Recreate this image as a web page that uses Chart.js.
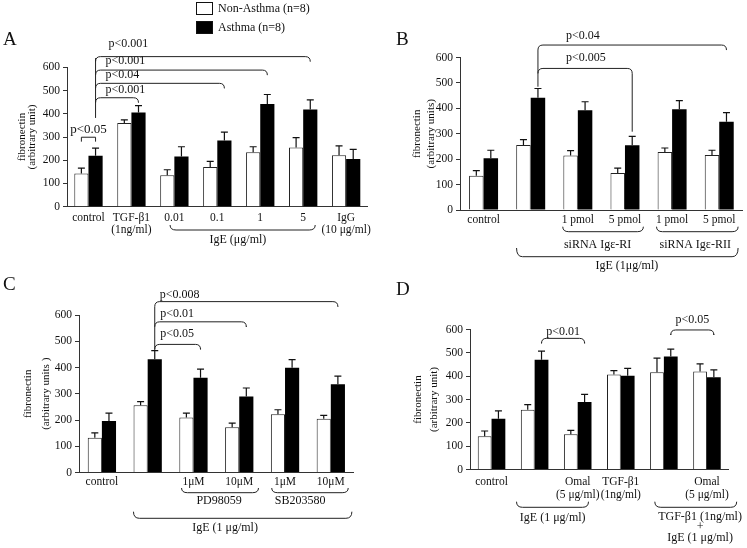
<!DOCTYPE html>
<html>
<head>
<meta charset="utf-8">
<script src="https://cdn.jsdelivr.net/npm/chart.js@4.4.1/dist/chart.umd.min.js"></script>
<style>
  html, body { margin: 0; padding: 0; background: #fff; overflow: hidden; }
  canvas { position: absolute; }
</style>
</head>
<body>
<canvas id="cA" width="400" height="274" style="left:0;top:0"></canvas>
<canvas id="cB" width="400" height="274" style="left:373px;top:0"></canvas>
<canvas id="cC" width="400" height="274" style="left:0;top:274px"></canvas>
<canvas id="cD" width="400" height="274" style="left:373px;top:274px"></canvas>
<script>
const SERIF = "'Liberation Serif', 'Times New Roman', serif";
const seriesNames = ["Non-Asthma (n=8)", "Asthma (n=8)"];
const ticksY = [0, 100, 200, 300, 400, 500, 600];

// Panel A
const catsA = ["control", ["TGF-β1", "(1ng/ml)"], "0.01", "0.1", "1", "5", ["IgG", "(10 μg/ml)"]];
const nonAsthmaA = [143, 360, 135, 171, 234, 255, 221];
const nonAsthmaErrA = [23, 14, 24, 24, 24, 42, 41];
const asthmaA = [219, 405, 216, 285, 442, 418, 205];
const asthmaErrA = [33, 30, 42, 36, 41, 42, 42];

// Panel B
const catsB = ["control", "", "1 pmol", "5 pmol", "1 pmol", "5 pmol"];
const nonAsthmaB = [135, 256, 214, 146, 228, 216];
const nonAsthmaErrB = [20, 21, 20, 19, 16, 19];
const asthmaB = [204, 442, 392, 255, 396, 347];
const asthmaErrB = [31, 36, 34, 35, 34, 36];

// Panel C
const catsC = ["control", "", "1μM", "10μM", "1μM", "10μM"];
const nonAsthmaC = [132, 256, 210, 172, 222, 205];
const nonAsthmaErrC = [19, 14, 16, 16, 17, 13];
const asthmaC = [196, 431, 361, 290, 399, 336];
const asthmaErrC = [30, 33, 33, 32, 31, 31];

// Panel D
const catsD = ["control", "", ["Omal", "(5 μg/ml)"], ["TGF-β1", "(1ng/ml)"], "", ["Omal", "(5 μg/ml)"]];
const nonAsthmaD = [142, 256, 151, 407, 417, 420];
const nonAsthmaErrD = [23, 22, 17, 17, 60, 33];
const asthmaD = [218, 470, 289, 402, 484, 395];
const asthmaErrD = [33, 37, 33, 31, 32, 32];

const XH = 36; // fixed x axis box height (labels are clipped to it)

// error bars, p-value brackets, braces, group labels
function annot(cfg) {
  return {
    id: "annot",
    afterDatasetsDraw(chart) {
      const ctx = chart.ctx, y = chart.scales.y;
      ctx.save();
      ctx.strokeStyle = "#111";
      ctx.lineWidth = 1.2;
      chart.data.datasets.forEach((ds, di) => {
        chart.getDatasetMeta(di).data.forEach((bar, i) => {
          const top = y.getPixelForValue(ds.data[i] + ds.err[i]);
          ctx.beginPath();
          ctx.moveTo(bar.x, bar.y);
          ctx.lineTo(bar.x, top);
          ctx.moveTo(bar.x - 3.5, top);
          ctx.lineTo(bar.x + 3.5, top);
          ctx.stroke();
        });
      });
      ctx.restore();
    },
    afterDraw(chart) {
      const ctx = chart.ctx, x = chart.scales.x, y = chart.scales.y;
      const ox = cfg.origin[0], oy = cfg.origin[1];
      const barX = c => chart.getDatasetMeta(c[1]).data[c[0]].x;
      const base = chart.chartArea.bottom;
      ctx.save();
      ctx.strokeStyle = "#222";
      ctx.fillStyle = "#111";
      ctx.lineWidth = 1;

      if (cfg.trunk) {
        const tx = barX(cfg.trunk.at);
        ctx.beginPath();
        ctx.moveTo(tx, y.getPixelForValue(cfg.trunk.from));
        ctx.lineTo(tx, y.getPixelForValue(cfg.trunk.to) + 5);
        ctx.stroke();
      }

      (cfg.sig || []).forEach(s => {
        const xa = barX(s.a), xb = barX(s.b);
        const py = y.getPixelForValue(s.y);
        const r = s.r === undefined ? 5 : s.r;
        const ya = s.legA !== undefined ? y.getPixelForValue(s.legA) : py + r;
        const yb = y.getPixelForValue(s.legB);
        ctx.beginPath();
        ctx.moveTo(xa, ya);
        ctx.lineTo(xa, py + r);
        ctx.quadraticCurveTo(xa, py, xa + r, py);
        ctx.lineTo(xb - r, py);
        ctx.quadraticCurveTo(xb, py, xb, py + r);
        ctx.lineTo(xb, yb);
        ctx.stroke();
        ctx.font = (s.size || 12) + "px " + SERIF;
        ctx.textBaseline = "middle";
        if (s.align === "center") {
          ctx.textAlign = "center";
          ctx.fillText(s.text, (xa + xb) / 2, y.getPixelForValue(s.ty));
        } else {
          ctx.textAlign = "left";
          ctx.fillText(s.text, xa + s.dx, y.getPixelForValue(s.ty));
        }
      });

      (cfg.braces || []).forEach(b => {
        const x1 = x.getPixelForValue(b.from), x2 = x.getPixelForValue(b.to);
        const by = base + b.dy, r = 6;
        ctx.beginPath();
        ctx.moveTo(x1, by - b.h);
        ctx.quadraticCurveTo(x1, by, x1 + r, by);
        ctx.lineTo(x2 - r, by);
        ctx.quadraticCurveTo(x2, by, x2, by - b.h);
        ctx.stroke();
      });

      ctx.font = "12px " + SERIF;
      ctx.textAlign = "center";
      ctx.textBaseline = "middle";
      (cfg.groups || []).forEach(g => {
        ctx.fillText(g.t, x.getPixelForValue(g.at), base + g.dy);
      });

      ctx.font = "19px " + SERIF;
      ctx.textAlign = "left";
      ctx.textBaseline = "alphabetic";
      ctx.fillText(cfg.letter, cfg.letterPos[0] - ox, cfg.letterPos[1] - oy);

      if (cfg.legend) {
        const ds = chart.data.datasets;
        const rows = [[2, 9], [21, 28]];
        ctx.font = "12px " + SERIF;
        ctx.textBaseline = "middle";
        ds.forEach((d, i) => {
          ctx.fillStyle = d.backgroundColor;
          ctx.fillRect(196 - ox, rows[i][0] - oy, 17, 13);
          ctx.strokeStyle = "#111";
          ctx.strokeRect(196.5 - ox, rows[i][0] + 0.5 - oy, 16, 12);
          ctx.fillStyle = "#111";
          ctx.fillText(d.label, 218 - ox, rows[i][1] - oy);
        });
      }
      ctx.restore();
    }
  };
}

function makePanel(id, cfg) {
  const cv = document.getElementById(id);
  const p = cfg.plot, ox = cfg.origin[0], oy = cfg.origin[1];
  const yw = p.left - ox;
  return new Chart(cv, {
    type: "bar",
    data: {
      labels: cfg.cats,
      datasets: [
        { label: seriesNames[0], data: cfg.non, err: cfg.nonErr, backgroundColor: "#fff", borderColor: "#222", borderWidth: 1 },
        { label: seriesNames[1], data: cfg.ast, err: cfg.astErr, backgroundColor: "#000", borderColor: "#000", borderWidth: 0 }
      ]
    },
    options: {
      responsive: false,
      animation: false,
      devicePixelRatio: 1,
      layout: { padding: { left: 0, top: p.top - oy, right: cv.width - (p.right - ox), bottom: cv.height - (p.bottom - oy) - XH } },
      plugins: { legend: { display: false }, tooltip: { enabled: false } },
      datasets: { bar: { categoryPercentage: cfg.catPct, barPercentage: 1 } },
      scales: {
        x: {
          grid: { display: false, drawTicks: false },
          border: { display: true, color: "#333", width: 1 },
          ticks: { color: "#111", font: { family: SERIF, size: 11.5, lineHeight: cfg.xLh }, padding: cfg.xPad, maxRotation: 0, autoSkip: false },
          afterFit: s => { s.height = XH; }
        },
        y: {
          min: ticksY[0],
          max: ticksY[ticksY.length - 1],
          ticks: { stepSize: ticksY[1] - ticksY[0], color: "#111", font: { family: SERIF, size: 11.5 }, padding: 3 },
          grid: { drawOnChartArea: false, drawTicks: true, tickLength: 4, color: "#333" },
          border: { display: true, color: "#333", width: 1 },
          title: {
            display: true,
            text: ["fibronectin", cfg.yUnit],
            color: "#111",
            font: { family: SERIF, size: 11, lineHeight: cfg.titleLh / 11 },
            padding: { top: cfg.titleX - ox - cfg.titleLh / 2, bottom: 0 }
          },
          afterFit: s => { s.width = yw; }
        }
      }
    },
    plugins: [annot(cfg)]
  });
}

makePanel("cA", {
  origin: [0, 0], plot: { left: 67, top: 67.3, right: 367.6, bottom: 206.7 },
  cats: catsA, non: nonAsthmaA, nonErr: nonAsthmaErrA, ast: asthmaA, astErr: asthmaErrA,
  catPct: 0.66, xLh: 12 / 11.5, xPad: 5.6,
  yUnit: "(arbitrary unit)", titleX: 21.7, titleLh: 10.6,
  letter: "A", letterPos: [3, 45], legend: true,
  trunk: { at: [0, 1], from: 382, to: 661 },
  sig: [
    { a: [0, 1], b: [1, 1], y: 469, legB: 447, text: "p<0.001", ty: 505, dx: 10 },
    { a: [0, 1], b: [3, 1], y: 531, legB: 510, text: "p<0.04", ty: 567, dx: 10 },
    { a: [0, 1], b: [4, 1], y: 588, legB: 567, text: "p<0.001", ty: 627, dx: 10 },
    { a: [0, 1], b: [5, 1], y: 646, legB: 625, text: "p<0.001", ty: 703, dx: 13 },
    { a: [0, 0], b: [0, 1], y: 299, legA: 280, legB: 280, r: 0, text: "p<0.05", ty: 332, align: "center", size: 13 }
  ],
  braces: [{ from: 1.9, to: 5.28, dy: 23.3, h: 5 }],
  groups: [{ t: "IgE (μg/ml)", at: 3.48, dy: 33.3 }]
});

makePanel("cB", {
  origin: [373, 0], plot: { left: 460, top: 57.5, right: 742.8, bottom: 210 },
  cats: catsB, non: nonAsthmaB, nonErr: nonAsthmaErrB, ast: asthmaB, astErr: asthmaErrB,
  catPct: 0.615, xLh: 12 / 11.5, xPad: 4,
  yUnit: "(arbitrary units)", titleX: 416.7, titleLh: 14,
  letter: "B", letterPos: [396, 45],
  trunk: { at: [1, 1], from: 485, to: 649 },
  sig: [
    { a: [1, 1], b: [3, 1], y: 557, legB: 308, text: "p<0.005", ty: 597, dx: 28 },
    { a: [1, 1], b: [5, 1], y: 649, legB: 630, text: "p<0.04", ty: 684, dx: 28 }
  ],
  braces: [
    { from: 1.68, to: 3.39, dy: 21.7, h: 5 },
    { from: 3.67, to: 5.4, dy: 21.7, h: 5 },
    { from: 0.7, to: 5.4, dy: 46.7, h: 8.7 }
  ],
  groups: [
    { t: "siRNA Igε-RI", at: 2.42, dy: 35 },
    { t: "siRNA Igε-RII", at: 4.49, dy: 35 },
    { t: "IgE (1μg/ml)", at: 3.04, dy: 55.7 }
  ]
});

makePanel("cC", {
  origin: [0, 274], plot: { left: 79, top: 315, right: 353.7, bottom: 472.5 },
  cats: catsC, non: nonAsthmaC, nonErr: nonAsthmaErrC, ast: asthmaC, astErr: asthmaErrC,
  catPct: 0.618, xLh: 12 / 11.5, xPad: 3.2,
  yUnit: "(arbitrary units )", titleX: 28.3, titleLh: 17.4,
  letter: "C", letterPos: [3, 290],
  trunk: { at: [1, 1], from: 467, to: 651 },
  sig: [
    { a: [1, 1], b: [2, 1], y: 488, legB: 473, text: "p<0.05", ty: 530, dx: 5.5 },
    { a: [1, 1], b: [3, 1], y: 574, legB: 558, text: "p<0.01", ty: 606, dx: 5.5 },
    { a: [1, 1], b: [5, 1], y: 651, legB: 634, text: "p<0.008", ty: 676, dx: 5 }
  ],
  braces: [
    { from: 1.74, to: 3.42, dy: 20.2, h: 4.7 },
    { from: 3.71, to: 5.38, dy: 20.2, h: 4.7 },
    { from: 0.69, to: 5.46, dy: 45.8, h: 6.6 }
  ],
  groups: [
    { t: "PD98059", at: 2.56, dy: 28.5 },
    { t: "SB203580", at: 4.33, dy: 28.5 },
    { t: "IgE (1 μg/ml)", at: 2.69, dy: 55.8 }
  ]
});

makePanel("cD", {
  origin: [373, 274], plot: { left: 470, top: 329.5, right: 728.5, bottom: 469.5 },
  cats: catsD, non: nonAsthmaD, nonErr: nonAsthmaErrD, ast: asthmaD, astErr: asthmaErrD,
  catPct: 0.64, xLh: 12.7 / 11.5, xPad: 6.5,
  yUnit: "(arbitrary unit)", titleX: 418.3, titleLh: 15.7,
  letter: "D", letterPos: [396, 295],
  sig: [
    { a: [1, 1], b: [2, 1], y: 562, legA: 545, legB: 545, text: "p<0.01", ty: 592, align: "center" },
    { a: [4, 1], b: [5, 1], y: 598, legA: 581, legB: 581, text: "p<0.05", ty: 641, align: "center" }
  ],
  braces: [
    { from: 0.58, to: 2.25, dy: 37.8, h: 5.6 },
    { from: 3.79, to: 5.69, dy: 37.8, h: 5.6 }
  ],
  groups: [
    { t: "IgE (1 μg/ml)", at: 1.42, dy: 48.8 },
    { t: "TGF-β1 (1ng/ml)", at: 4.84, dy: 47.2 },
    { t: "+", at: 4.84, dy: 57.8 },
    { t: "IgE (1 μg/ml)", at: 4.84, dy: 68.8 }
  ]
});
</script>
</body>
</html>
